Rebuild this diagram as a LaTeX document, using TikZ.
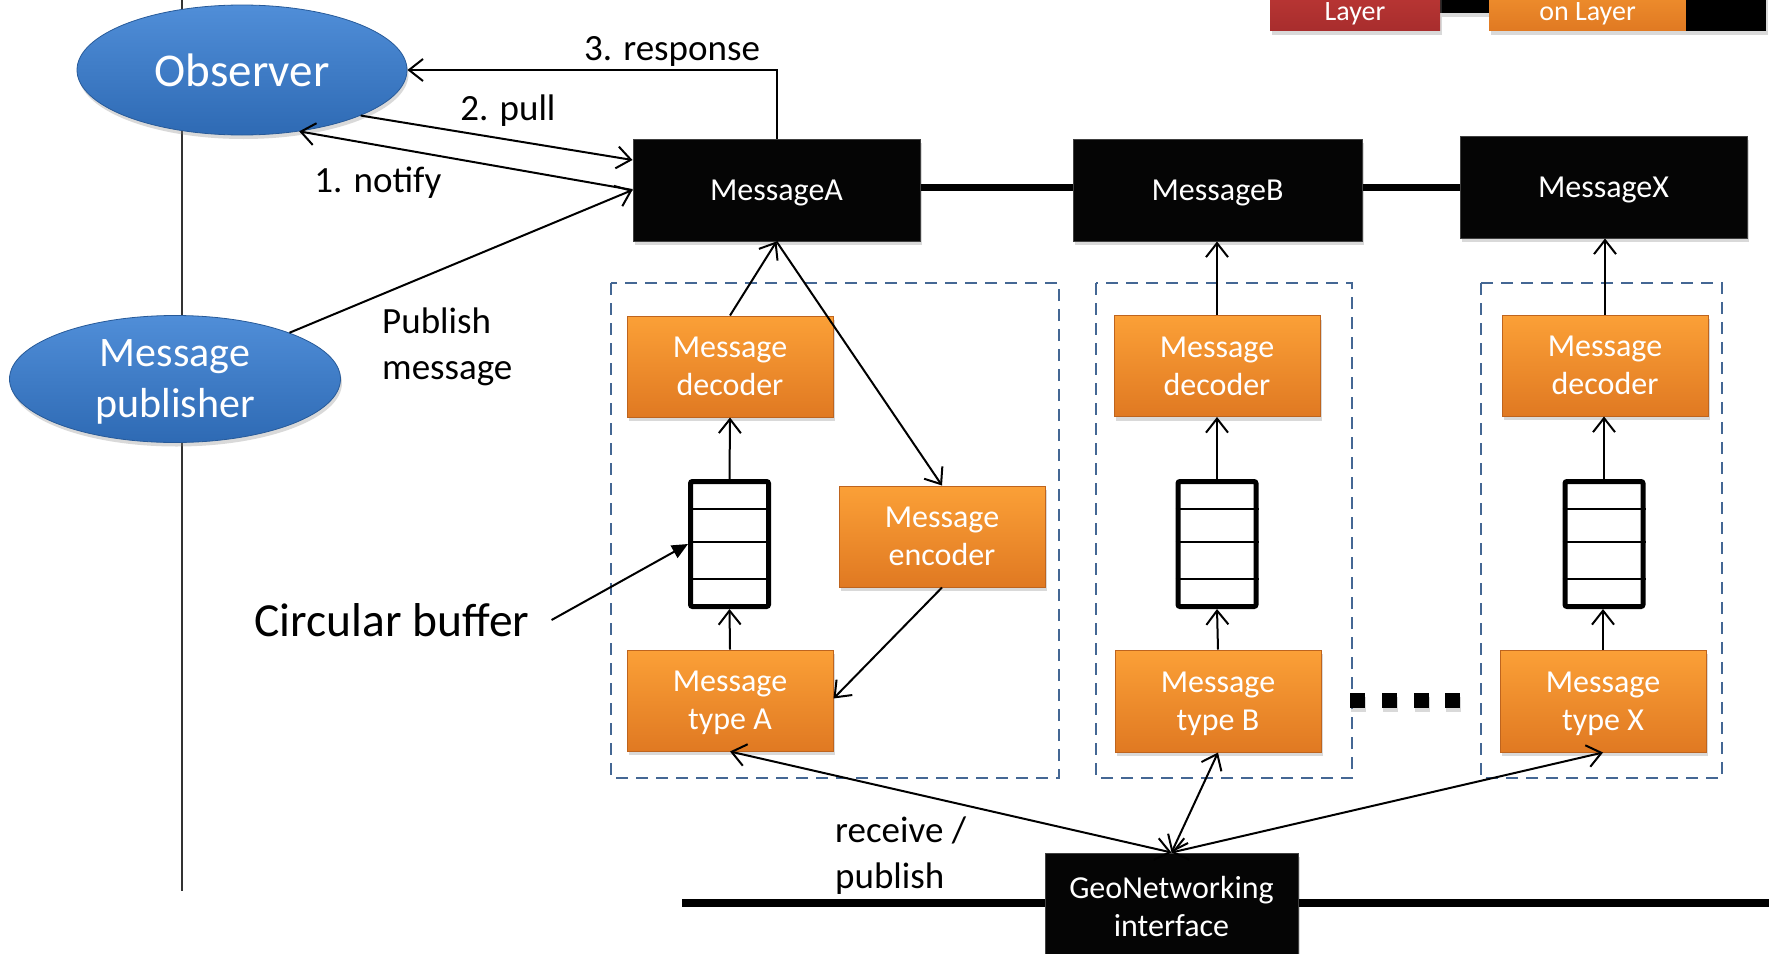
\documentclass[tikz,border=0pt]{standalone}
\usepackage{fontspec}
\setmainfont{Carlito}
\usetikzlibrary{arrows.meta,shapes.geometric,shadows,calc}
\definecolor{orTop}{RGB}{251,160,55}
\definecolor{orBot}{RGB}{224,121,34}
\definecolor{orEdge}{RGB}{190,100,30}
\definecolor{blTop}{RGB}{80,142,216}
\definecolor{blBot}{RGB}{46,106,180}
\definecolor{dashC}{RGB}{68,103,148}
\definecolor{redTop}{RGB}{200,62,58}
\definecolor{redBot}{RGB}{168,45,45}
\newcommand\nodp[1]{\raisebox{0pt}[\height][0pt]{#1}}
\begin{document}
\begin{tikzpicture}[x=1pt,y=-1pt,
  dropsh/.style={drop shadow={shadow xshift=1.5pt,shadow yshift=-4pt,opacity=0.3}},
  obox/.style={rectangle, top color=orTop, bottom color=orBot, draw=orEdge, line width=1pt, text=white, minimum width=206pt, minimum height=101pt, inner sep=0pt, align=center, font=\fontsize{32}{38}\selectfont, dropsh},
  kbox/.style={rectangle, fill=black!98, draw=black!75, line width=1pt, text=white, minimum width=287pt, minimum height=102pt, inner sep=0pt, align=center, font=\fontsize{32}{38}\selectfont, dropsh},
  bell/.style={ellipse, top color=blTop, bottom color=blBot, draw=blBot!85!black, line width=0.8pt, text=white, inner sep=0pt, align=center, dropsh},
  bufbox/.style={rectangle, draw=black, line width=5pt, fill=white, minimum width=78pt, minimum height=125pt, inner sep=0pt, rounded corners=2pt},
  arr/.style={line width=2pt, -{Straight Barb[length=14pt,width=22pt]}},
  darr/.style={line width=2pt, {Straight Barb[length=14pt,width=22pt]}-{Straight Barb[length=14pt,width=22pt]}},
  lbl/.style={font=\fontsize{37}{46}\selectfont, inner sep=0pt, align=left},
  cont/.style={draw=dashC, line width=2.5pt, dash pattern=on 12pt off 8pt},
  bus/.style={line width=7pt},
]
\useasboundingbox (0,0) rectangle (1769,953);

% vertical lifeline
\coordinate (vtop) at (182,0);
\coordinate (vbot) at (182,891);
\draw[line width=1.5pt, black!80] (vtop) -- (vbot);

% top cut-off boxes
\fill[black, dropsh] (1440,-40) rectangle (1489,13);
\node[rectangle, top color=redTop, bottom color=redBot, text=white, minimum width=170pt, inner sep=0pt, text height=60pt, text depth=10pt, anchor=south, font=\fontsize{28}{30}\selectfont, dropsh] (lay1) at (1355,31) {Layer};
\node[rectangle, top color=orTop, bottom color=orBot, text=white, minimum width=197pt, inner sep=0pt, text height=60pt, text depth=10pt, anchor=south, font=\fontsize{28}{30}\selectfont, dropsh] (lay2) at (1587.5,31) {on Layer};
\fill[black, dropsh] (1686,-40) rectangle (1766,31);

% dashed containers
\draw[cont] (611,283) rectangle (1059,778);
\draw[cont] (1096,283) rectangle (1352,778);
\draw[cont] (1481,283) rectangle (1722,778);

% ellipses
\node[bell, minimum width=330pt, minimum height=130pt, font=\fontsize{47}{52}\selectfont] (obs) at (242,70) {Observer};
\node[bell, minimum width=331pt, minimum height=127pt, font=\fontsize{42}{51}\selectfont] (pub) at (175,379) {Message\\\nodp{publisher}};

% message boxes
\node[kbox] (mA) at (776.5,190) {\nodp{MessageA}};
\node[kbox, minimum width=289pt] (mB) at (1217.5,190) {\nodp{MessageB}};
\node[kbox] (mX) at (1603.5,187) {\nodp{MessageX}};
\draw[bus] (mA.east |- mX.west) -- (mB.west |- mX.west);
\draw[bus] (mB.east |- mX.west) -- (mX.west);

% orange boxes
\node[obox] (decA) at (730,366.5) {Message\\decoder};
\node[obox] (decB) at (1217,366) {Message\\decoder};
\node[obox] (decX) at (1605,365.5) {Message\\decoder};
\node[obox] (encA) at (942,536.5) {Message\\encoder};
\node[obox] (typA) at (730,700.5) {Message\\\nodp{type A}};
\node[obox, minimum height=102pt] (typB) at (1218,701) {Message\\\nodp{type B}};
\node[obox, minimum height=102pt] (typX) at (1603,701) {Message\\\nodp{type X}};

% buffers
\node[bufbox] (bufA) at (729.5,544) {};
\node[bufbox] (bufB) at (1217,544) {};
\node[bufbox] (bufX) at (1604,544) {};
\foreach \b in {bufA,bufB,bufX}{
  \foreach \s in {35,2,-35}{
    \draw[line width=2pt] ([yshift=\s pt]\b.west) -- ([yshift=\s pt]\b.east);
  }
}

% GeoNetworking
\node[kbox, minimum width=253pt, minimum height=106pt] (geo) at (1171.5,906) {GeoNetworking\\interface};
\coordinate (busL) at (682,903);
\coordinate (busR) at (1769,903);
\draw[line width=8pt] (busL) -- (busL -| geo.west);
\draw[line width=8pt] (geo.east |- busR) -- (busR);

% dots
\foreach \xx in {1357,1389,1421,1452}{
  \fill[black, dropsh] (\xx-7.5,693) rectangle (\xx+7.5,708);
}

% labels
\node[lbl] (lresp) at (672,48) {\nodp{3. response}};
\node[lbl] (lpull) at (508,108) {\nodp{2. pull}};
\node[lbl] (lnot) at (378,180) {\nodp{1. notify}};
\node[lbl, anchor=west] (lpub) at (382,344) {Publish\\\nodp{message}};
\node[lbl, anchor=west] (lrec) at (835,853) {receive /\\\nodp{publish}};
\node[font=\fontsize{47.5}{52}\selectfont, inner ysep=0pt, inner xsep=22pt] (cb) at (392,620) {Circular buffer};

% connectors
\draw[arr] (mA.north) |- (obs.east);
\draw[arr] (obs.-21) -- ([yshift=30pt]mA.west);
\draw[arr] (mA.west) -- (obs.-47);
\draw[arr] (pub.22) -- (mA.west);
\draw[arr] (decA.north) -- (mA.south);
\draw[arr] (mA.south) -- (encA.north);
\draw[arr] (encA.south) -- ([yshift=2pt]typA.east);
\draw[arr] (typA.north) -- (bufA.south);
\draw[arr] (bufA.north) -- (decA.south);
\draw[arr] (typB.north) -- (bufB.south);
\draw[arr] (bufB.north) -- (decB.south);
\draw[arr] (decB.north) -- (mB.south -| decB.north);
\draw[arr] (typX.north) -- (bufX.south -| typX.north);
\draw[arr] (bufX.north) -- (decX.south -| bufX.north);
\draw[arr] (decX.north) -- (mX.south -| decX.north);
\draw[line width=2pt, -{Triangle[length=16pt,width=14pt]}] (cb.east) -- (bufA.west);
\draw[darr] (typA.south) -- (geo.north);
\draw[darr] (typB.south) -- (geo.north);
\draw[darr] (typX.south) -- (geo.north);
\end{tikzpicture}
\end{document}
